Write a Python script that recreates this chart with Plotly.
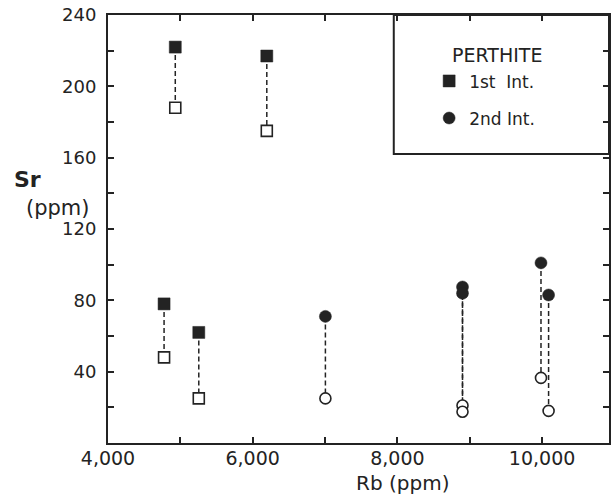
import plotly.graph_objects as go

# ---- data ----
sq_rb = [4930, 6195, 4775, 5255]          # 1st Int. (squares)
sq_sr_filled = [222, 217, 78, 62]
sq_sr_open = [188, 175, 48, 25]

ci_rb = [7005, 8900, 8900, 9985, 10090]   # 2nd Int. (circles)
ci_sr_filled = [71, 87.5, 84, 101, 83]
ci_sr_open = [25, 21, 17.5, 36.5, 18]

x_tickvals = [4000, 5000, 6000, 7000, 8000, 9000, 10000]
x_ticktext = ["4,000", "", "6,000", "", "8,000", "", "10,000"]
y_tickvals = [0, 20, 40, 60, 80, 100, 120, 140, 160, 180, 200, 220, 240]
y_ticktext = ["", "", "40", "", "80", "", "120", "", "160", "", "200", "", "240"]

INK = "#232323"
FONT = "DejaVu Sans"

fig = go.Figure()

# dashed tie lines between filled and open symbols
def tie(xs, top, bot):
    lx, ly = [], []
    for x, a, b in zip(xs, top, bot):
        lx += [x, x, None]
        ly += [a, b, None]
    return lx, ly

for xs, a, b in [(sq_rb, sq_sr_filled, sq_sr_open), (ci_rb, ci_sr_filled, ci_sr_open)]:
    lx, ly = tie(xs, a, b)
    fig.add_trace(go.Scatter(x=lx, y=ly, mode="lines", showlegend=False,
                             line=dict(color=INK, width=1.5, dash="5px,3px"),
                             hoverinfo="skip"))

fig.add_trace(go.Scatter(x=sq_rb, y=sq_sr_open, mode="markers", showlegend=False,
                         marker=dict(symbol="square", size=11, color="white",
                                     line=dict(color=INK, width=1.6))))
fig.add_trace(go.Scatter(x=ci_rb, y=ci_sr_open, mode="markers", showlegend=False,
                         marker=dict(symbol="circle", size=11, color="white",
                                     line=dict(color=INK, width=1.6))))
fig.add_trace(go.Scatter(x=sq_rb, y=sq_sr_filled, mode="markers", name="1st  Int.",
                         legendgroup="a",
                         marker=dict(symbol="square", size=12, color=INK,
                                     line=dict(color=INK, width=0.5))))
fig.add_trace(go.Scatter(x=ci_rb, y=ci_sr_filled, mode="markers", name="2nd Int.",
                         legendgroup="b",
                         marker=dict(symbol="circle", size=12, color=INK,
                                     line=dict(color=INK, width=0.5))))

X_MAX = 10925
# legend box (left and bottom edges; top/right are the axes)
fig.add_shape(type="rect", xref="x", yref="y", x0=7950, x1=X_MAX, y0=162, y1=240,
              line=dict(color=INK, width=2), fillcolor="rgba(0,0,0,0)", layer="below")

axis_common = dict(showline=True, linecolor=INK, linewidth=2, mirror="ticks",
                   ticks="inside", ticklen=6, tickwidth=1.5, tickcolor=INK,
                   showgrid=False, zeroline=False, automargin=False,
                   ticklabeloverflow="allow")

fig.update_layout(
    width=612, height=497,
    margin=dict(l=108, r=3, t=14.5, b=53.5),
    paper_bgcolor="white", plot_bgcolor="white",
    xaxis=dict(range=[4000, X_MAX], tickmode="array", tickvals=x_tickvals,
               ticktext=x_ticktext, tickfont=dict(family=FONT, size=19, color=INK),
               ticklabelstandoff=-3, **axis_common),
    yaxis=dict(range=[0, 240], tickmode="array", tickvals=y_tickvals,
               ticktext=y_ticktext, tickfont=dict(family=FONT, size=18, color=INK),
               ticklabelstandoff=6, **axis_common),
    legend=dict(x=0.641, y=0.887, xanchor="left", yanchor="top",
                bgcolor="rgba(0,0,0,0)", borderwidth=0, itemwidth=30,
                tracegroupgap=12,
                font=dict(family=FONT, size=17, color=INK)),
    showlegend=True,
    annotations=[
        dict(text="PERTHITE", xref="paper", yref="paper", x=0.776, y=0.9056,
             xanchor="center", yanchor="middle", showarrow=False,
             font=dict(family=FONT, size=19, color=INK)),
        dict(text="Rb (ppm)", xref="paper", yref="paper", x=0.5874, y=-0.093,
             xanchor="center", yanchor="middle", showarrow=False,
             font=dict(family=FONT, size=20, color=INK)),
        dict(text="<b>Sr</b>", xref="paper", yref="paper", x=-0.1908, y=0.6154,
             xanchor="left", yanchor="middle", showarrow=False,
             font=dict(family=FONT, size=22, color=INK)),
        dict(text="(ppm)", xref="paper", yref="paper", x=-0.1668, y=0.549,
             xanchor="left", yanchor="middle", showarrow=False,
             font=dict(family=FONT, size=21, color=INK)),
    ],
)

# remove the default page margin so the figure fills the window exactly
fig.write_html("out.html", config={"displayModeBar": False},
               post_script="document.body.style.margin='0px';")
